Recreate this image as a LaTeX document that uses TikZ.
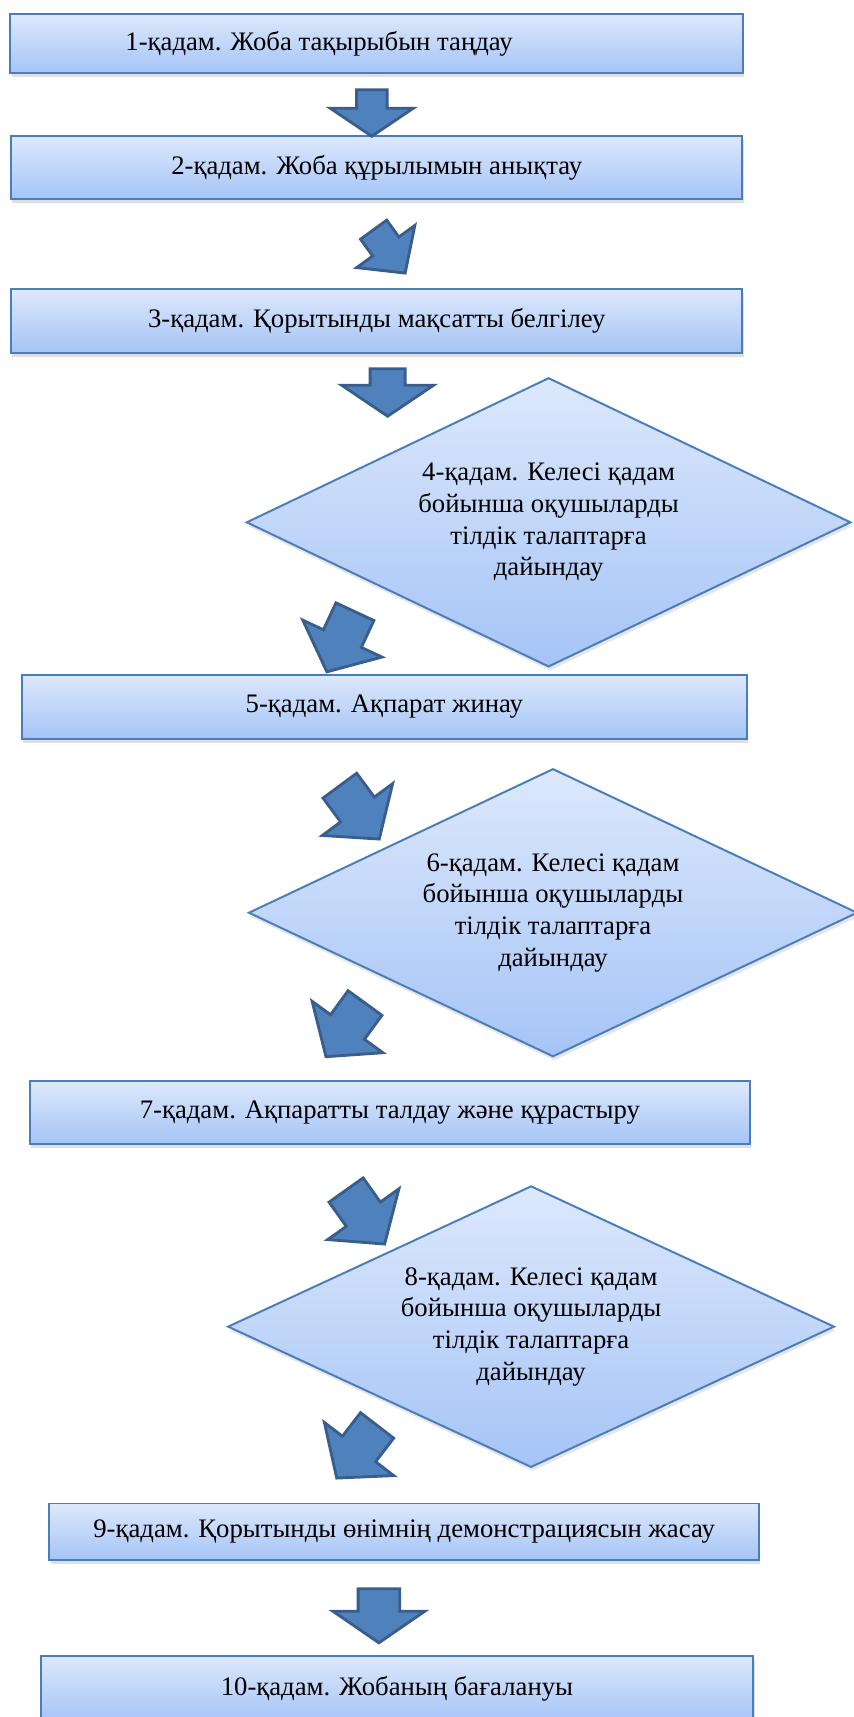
\documentclass[tikz,border=0pt]{standalone}
\usepackage{fontspec}
\setmainfont{Liberation Serif}
\usepackage{tikz}
\usepackage{xcolor}
\usetikzlibrary{shapes.geometric, shapes.arrows, shadows, positioning}
\definecolor{steptop}{rgb}{0.867, 0.910, 0.988}
\definecolor{stepbottom}{rgb}{0.647, 0.769, 0.965}
\definecolor{stepline}{rgb}{0.290, 0.494, 0.733}
\definecolor{arrowfill}{rgb}{0.310, 0.506, 0.741}
\definecolor{arrowline}{rgb}{0.224, 0.369, 0.549}

\begin{document}
\begin{tikzpicture}[x=0.5pt, y=-0.5pt, every node/.style={font=\fontsize{12.2}{14.5}\selectfont},
    stepbox/.style={rectangle, draw=stepline, line width=0.9pt, top color=steptop, bottom color=stepbottom,
        drop shadow={shadow xshift=0.6pt, shadow yshift=-1.8pt, opacity=0.25}, inner sep=0pt},
    stepdiamond/.style={diamond, aspect=2, draw=stepline, line width=0.9pt, top color=steptop, bottom color=stepbottom,
        drop shadow={shadow xshift=0.6pt, shadow yshift=-1.8pt, opacity=0.2}, align=center, inner sep=0pt},
    blockarrow/.style={single arrow, draw=arrowline, fill=arrowfill, line width=1.3pt, inner xsep=0pt,
        single arrow head indent=0pt}]
        \useasboundingbox (0,0) rectangle (779,1568);

        \node[stepbox, minimum width=334.5pt, minimum height=27pt] (S1) at (344,40) {1-қадам. Жоба тақырыбын таңдау\hspace*{52.6pt}};
        \node[stepbox, minimum width=334pt, minimum height=29pt] (S2) at (344,153) {2-қадам. Жоба құрылымын анықтау};
        \node[stepbox, minimum width=334pt, minimum height=29pt] (S3) at (344,293) {3-қадам. Қорытынды мақсатты белгілеу};
        \node[stepdiamond, minimum width=276pt, minimum height=132pt] (D4) at (501,477)
            {4-қадам. Келесі қадам\\ бойынша оқушыларды\\ тілдік талаптарға\\ дайындау};
        \node[stepbox, minimum width=331pt, minimum height=29pt] (S5) at (351,645.5) {5-қадам. Ақпарат жинау};
        \node[stepdiamond, minimum width=278pt, minimum height=131.5pt] (D6) at (505,833.5)
            {6-қадам. Келесі қадам\\ бойынша оқушыларды\\ тілдік талаптарға\\ дайындау};
        \node[stepbox, minimum width=329pt, minimum height=29pt] (S7) at (356,1016) {7-қадам. Ақпаратты талдау және құрастыру};
        \node[stepdiamond, minimum width=277pt, minimum height=128.5pt] (D8) at (485,1211.5)
            {8-қадам. Келесі қадам\\ бойынша оқушыларды\\ тілдік талаптарға\\ дайындау};
        \node[stepbox, minimum width=324pt, minimum height=26pt] (S9) at (369,1399) {9-қадам. Қорытынды өнімнің демонстрациясын жасау};
        \node[stepbox, minimum width=325.5pt, minimum height=30pt] (S10) at (362.5,1542) {10-қадам. Жобаның бағалануы};

        \node[blockarrow, rotate=-90, minimum height=21.2pt, minimum width=36.7pt, inner ysep=6.35pt,
            single arrow head extend=12pt, single arrow tip angle=112] (A1) at (339.5,98.5) {};
        \node[blockarrow, rotate=-54, minimum height=24.5pt, minimum width=31.4pt, inner ysep=6.75pt,
            single arrow head extend=9pt, single arrow tip angle=95] (A2) at (351.6,224.1) {};
        \node[blockarrow, rotate=-90, minimum height=21.7pt, minimum width=40.7pt, inner ysep=7.35pt,
            single arrow head extend=13pt, single arrow tip angle=112] (A3) at (354,353) {};
        \foreach \n/\x/\y/\r in {4/314.7/578.8/-115, 5/323.6/735.4/-53.6, 6/320.2/934/-126, 7/329/1104.9/-54.5, 8/330.8/1319.4/-127.5}{
            \node[blockarrow, rotate=\r, minimum height=30.3pt, minimum width=38.8pt, inner ysep=8.9pt,
                single arrow head extend=10.4pt, single arrow tip angle=100] (A\n) at (\x,\y) {};
        }
        \node[blockarrow, rotate=-90, minimum height=24.7pt, minimum width=40.7pt, inner ysep=8.85pt,
            single arrow head extend=11.5pt, single arrow tip angle=111] (A9) at (346,1469) {};
    \end{tikzpicture}
\end{document}
